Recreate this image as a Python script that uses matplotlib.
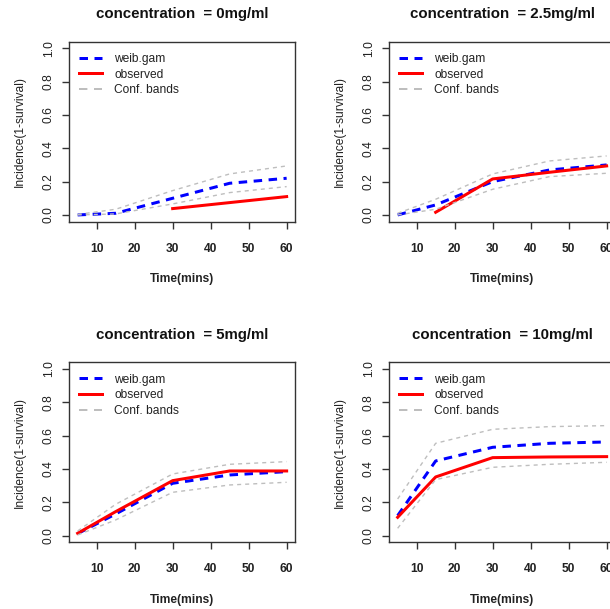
import numpy as np
import matplotlib.pyplot as plt
from matplotlib.lines import Line2D

plt.rcParams['font.family'] = ['Liberation Sans', 'DejaVu Sans']

time = [5, 15, 30, 45, 60]
concentrations = ['0mg/ml', '2.5mg/ml', '5mg/ml', '10mg/ml']

weib_gam = [
    [0.0, 0.01, 0.10, 0.19, 0.22],
    [0.0, 0.06, 0.20, 0.27, 0.30],
    [0.012, 0.13, 0.314, 0.364, 0.384],
    [0.12, 0.448, 0.53, 0.554, 0.562],
]
observed = [
    [np.nan, np.nan, 0.038, 0.074, 0.11],
    [np.nan, 0.016, 0.216, 0.256, 0.294],
    [0.014, 0.144, 0.33, 0.388, 0.388],
    [0.11, 0.352, 0.468, 0.472, 0.474],
]
upper_band = [
    [0.003, 0.034, 0.146, 0.246, 0.294],
    [0.01, 0.094, 0.246, 0.324, 0.354],
    [0.028, 0.188, 0.37, 0.428, 0.444],
    [0.22, 0.554, 0.638, 0.654, 0.66],
]
lower_band = [
    [0.0, 0.006, 0.066, 0.134, 0.17],
    [0.0, 0.034, 0.154, 0.23, 0.25],
    [0.004, 0.094, 0.26, 0.304, 0.32],
    [0.044, 0.336, 0.41, 0.428, 0.44],
]

W, H = 610, 609
fig = plt.figure(figsize=(W / 100, H / 100), dpi=100)

# panel boxes in pixels: left, top, width, height
boxes = [(69.3, 41.6), (389.3, 41.6), (69.3, 362.3), (389.3, 362.3)]
bw, bh = 225.7, 180.0

px = 72 / 100.0  # points per pixel
txt = '#222222'
grey = '#bebebe'
lw2 = 3 * px
blue_dash = (2.83, 2.17)

# legend keys (grey key drawn heavier than the band lines)
handles = [
    Line2D([], [], color='blue', lw=lw2, dashes=blue_dash),
    Line2D([], [], color='red', lw=lw2),
    Line2D([], [], color=grey, lw=2 * px, dashes=(4.2, 3.3)),
]
labels = ['weib.gam', 'observed', 'Conf. bands']

for i, (left, top) in enumerate(boxes):
    ax = fig.add_axes([left / W, (H - top - bh) / H, bw / W, bh / H])
    ax.plot(time, weib_gam[i], color='blue', lw=lw2, dashes=blue_dash)
    ax.plot(time, observed[i], color='red', lw=lw2)
    ax.plot(time, upper_band[i], color=grey, lw=1.0, dashes=(2.9, 2.9))
    ax.plot(time, lower_band[i], color=grey, lw=1.0, dashes=(2.9, 2.9))

    ax.set_xlim(2.8, 62.2)
    ax.set_ylim(-0.04, 1.04)
    ax.set_xticks([10, 20, 30, 40, 50, 60])
    ax.set_yticks([0.0, 0.2, 0.4, 0.6, 0.8, 1.0])
    ax.set_yticklabels(['0.0', '0.2', '0.4', '0.6', '0.8', '1.0'],
                       rotation=90, va='center')
    ax.tick_params(axis='both', length=7 * px, width=1.0, color='#333333',
                   labelsize=12 * px, labelcolor=txt)
    ax.tick_params(axis='x', pad=10.2)
    ax.tick_params(axis='y', pad=5.3)
    for lab in ax.get_xticklabels():
        lab.set_fontweight('bold')
    for s in ax.spines.values():
        s.set_color('#333333')
        s.set_linewidth(1.0)

    ax.set_title('concentration  = ' + concentrations[i], fontsize=15 * px,
                 fontweight='bold', color='#111111', pad=17)
    ax.set_xlabel('Time(mins)', fontsize=12 * px, fontweight='bold', color=txt)
    ax.set_ylabel('Incidence(1-survival)', fontsize=12 * px, color=txt)
    ax.xaxis.set_label_coords(0.5, -0.287)
    ax.yaxis.set_label_coords(-0.191, 0.5)

    leg = ax.legend(handles, labels, loc='upper left', bbox_to_anchor=(0.045, 0.937),
                    frameon=False, fontsize=12 * px, handlelength=1.9,
                    handletextpad=1.0, labelspacing=0.3, borderaxespad=0, borderpad=0)
    for t in leg.get_texts():
        t.set_color(txt)

fig.savefig('out.png', dpi=100)
